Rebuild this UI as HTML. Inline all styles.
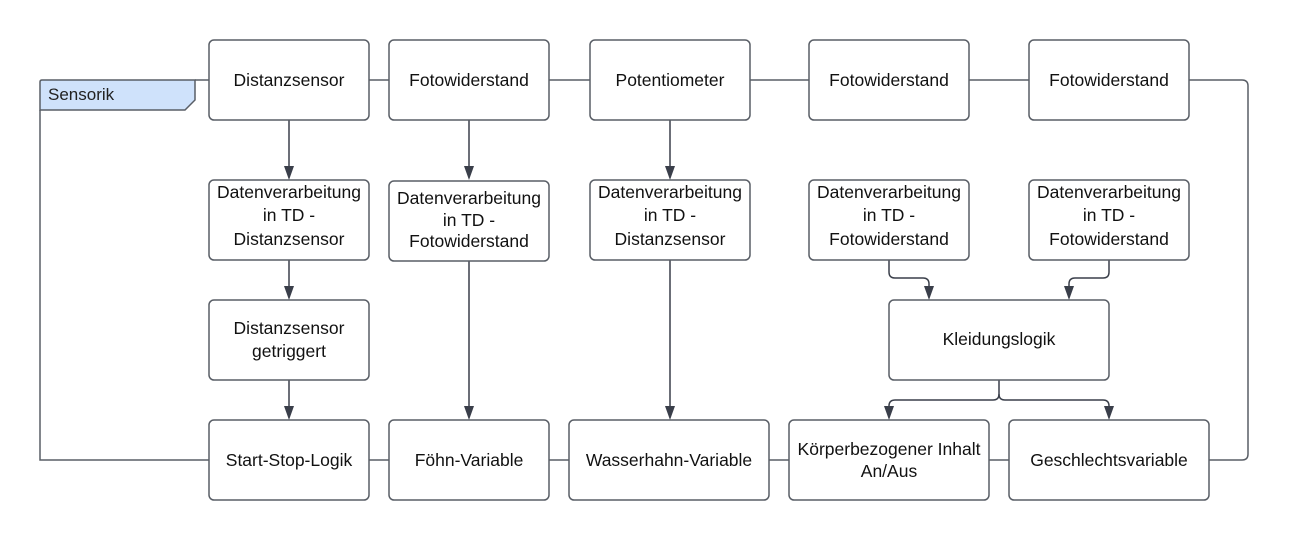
<!DOCTYPE html>
<html><head><meta charset="utf-8"><style>
body{margin:0;background:#fff;}
svg{display:block;font-family:"Liberation Sans",sans-serif;}
</style></head><body>
<svg width="1290" height="541" viewBox="0 0 1290 541" xmlns="http://www.w3.org/2000/svg">
<g fill="none" stroke="#595e66" stroke-width="1.5">
<path d="M195,80 H209"/>
<path d="M40,110 V460 H209"/>
<path d="M369,80 H389 M549,80 H590 M750,80 H809 M969,80 H1029"/>
<path d="M1189,80 H1242 Q1248,80 1248,86 V454 Q1248,460 1242,460 H1209"/>
<path d="M369,460 H389 M549,460 H569 M769,460 H789 M989,460 H1009"/>
</g>
<g fill="none" stroke="#3a3f4a" stroke-width="1.5">
<path d="M289,120 V168"/><path d="M469,120 V168"/><path d="M670,120 V168"/>
<path d="M289,260 V288"/><path d="M289,380 V408"/>
<path d="M469,261 V408"/><path d="M670,260 V408"/>
<path d="M889,260 V272 Q889,278 895,278 H923 Q929,278 929,284 V288"/>
<path d="M1109,260 V272 Q1109,278 1103,278 H1075 Q1069,278 1069,284 V288"/>
<path d="M999,380 V394 Q999,400 993,400 H895 Q889,400 889,406 V408"/>
<path d="M999,394 Q999,400 1005,400 H1103 Q1109,400 1109,406 V408"/>
</g>
<g fill="#3a3f4a">
<path d="M284,166 H294 L289,180 Z"/><path d="M464,166 H474 L469,180 Z"/><path d="M665,166 H675 L670,180 Z"/>
<path d="M284,286 H294 L289,300 Z"/><path d="M284,406 H294 L289,420 Z"/>
<path d="M464,406 H474 L469,420 Z"/><path d="M665,406 H675 L670,420 Z"/>
<path d="M924,286 H934 L929,300 Z"/><path d="M1064,286 H1074 L1069,300 Z"/>
<path d="M884,406 H894 L889,420 Z"/><path d="M1104,406 H1114 L1109,420 Z"/>
</g>
<path d="M42,80 H195 V100 L185,110 H40 V82 Q40,80 42,80 Z" fill="#cfe2fb" stroke="#595e66" stroke-width="1.5"/>
<text x="48" y="100" font-size="17" fill="#222">Sensorik</text>
<g fill="#fff" stroke="#595e66" stroke-width="1.5">
<rect x="209" y="40" width="160" height="80" rx="5"/>
<rect x="389" y="40" width="160" height="80" rx="5"/>
<rect x="590" y="40" width="160" height="80" rx="5"/>
<rect x="809" y="40" width="160" height="80" rx="5"/>
<rect x="1029" y="40" width="160" height="80" rx="5"/>
<rect x="209" y="180" width="160" height="80" rx="5"/>
<rect x="389" y="181" width="160" height="80" rx="5"/>
<rect x="590" y="180" width="160" height="80" rx="5"/>
<rect x="809" y="180" width="160" height="80" rx="5"/>
<rect x="1029" y="180" width="160" height="80" rx="5"/>
<rect x="209" y="300" width="160" height="80" rx="5"/>
<rect x="889" y="300" width="220" height="80" rx="5"/>
<rect x="209" y="420" width="160" height="80" rx="5"/>
<rect x="389" y="420" width="160" height="80" rx="5"/>
<rect x="569" y="420" width="200" height="80" rx="5"/>
<rect x="789" y="420" width="200" height="80" rx="5"/>
<rect x="1009" y="420" width="200" height="80" rx="5"/>
</g>
<g font-size="17.5" fill="#111" text-anchor="middle">
<text x="289" y="86">Distanzsensor</text>
<text x="469" y="86">Fotowiderstand</text>
<text x="670" y="86">Potentiometer</text>
<text x="889" y="86">Fotowiderstand</text>
<text x="1109" y="86">Fotowiderstand</text>
<text x="289" y="198">Datenverarbeitung</text><text x="289" y="221">in TD -</text><text x="289" y="245">Distanzsensor</text>
<text x="469" y="204">Datenverarbeitung</text><text x="469" y="226">in TD -</text><text x="469" y="247">Fotowiderstand</text>
<text x="670" y="198">Datenverarbeitung</text><text x="670" y="221">in TD -</text><text x="670" y="245">Distanzsensor</text>
<text x="889" y="198">Datenverarbeitung</text><text x="889" y="221">in TD -</text><text x="889" y="245">Fotowiderstand</text>
<text x="1109" y="198">Datenverarbeitung</text><text x="1109" y="221">in TD -</text><text x="1109" y="245">Fotowiderstand</text>
<text x="289" y="334">Distanzsensor</text><text x="289" y="357">getriggert</text>
<text x="999" y="345">Kleidungslogik</text>
<text x="289" y="466">Start-Stop-Logik</text>
<text x="469" y="466">Föhn-Variable</text>
<text x="669" y="466">Wasserhahn-Variable</text>
<text x="889" y="455">Körperbezogener Inhalt</text><text x="889" y="477">An/Aus</text>
<text x="1109" y="466">Geschlechtsvariable</text>
</g>
</svg>
</body></html>
